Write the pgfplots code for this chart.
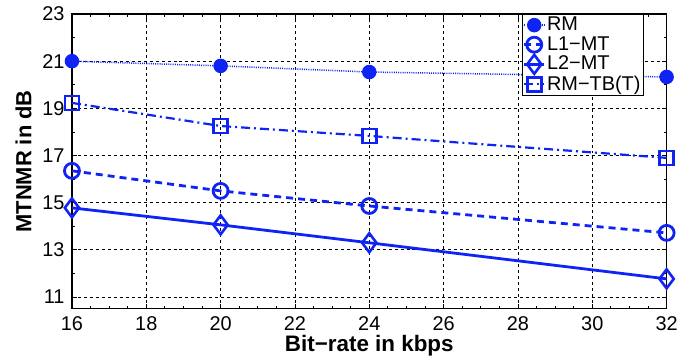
\documentclass[border=0pt]{standalone}
\usepackage{fontspec}
\setmainfont{Liberation Sans}
\usepackage{pgfplots}
\pgfplotsset{compat=1.18}
\definecolor{mblue}{RGB}{15,35,245}
\begin{document}
\fontsize{19}{22}\selectfont
\begin{tikzpicture}
\begin{axis}[
  scale only axis, width=595bp, height=295bp,
  xmin=16, xmax=32, ymin=10.5, ymax=23,
  xtick={16,18,...,32}, ytick={11,13,...,23},
  minor x tick num=3, minor y tick num=1,
  tick align=inside, tick pos=both,
  major tick length=5bp, minor tick length=3bp,
  grid=major, major grid style={black, dashed, line width=0.8pt},
  axis line style={black, line width=1.2pt},
  every tick/.style={black, line width=0.8pt},
  /pgf/number format/assume math mode=true,
  ticklabel style={font=\fontsize{20}{22}\selectfont},
  yticklabel style={xshift=-1bp},
  xticklabel style={yshift=-1bp},
  xlabel={\bfseries Bit−rate in kbps},
  ylabel={\bfseries MTNMR in dB},
  xlabel style={yshift=8bp, font=\fontsize{22.5}{24}\selectfont},
  ylabel style={yshift=-2bp, font=\fontsize{22}{24}\selectfont},
  legend style={at={(rel axis cs:0.961,1)}, anchor=north east, draw=black, line width=0.8pt,
    font=\fontsize{20}{22}\selectfont, inner sep=1pt, fill=white,
    nodes={inner sep=1.5pt}},
  legend cell align=left,
  legend image code/.code={\draw[mark repeat=2,mark phase=2] plot coordinates {(0cm,0cm) (0.35cm,0cm) (0.7cm,0cm)};},
]
\addplot[mblue, line width=1.5pt, dash pattern=on 1pt off 1.2pt, mark=*, mark size=6.5bp, mark options={solid}]
  coordinates {(16,21.0) (20,20.8) (24,20.54) (32,20.33)};
\addlegendentry{RM}
\addplot[mblue, line width=2.8pt, dash pattern=on 7bp off 5bp, mark=o, mark size=7.5bp, mark options={solid, line width=2.8pt}]
  coordinates {(16,16.35) (20,15.5) (24,14.86) (32,13.72)};
\addlegendentry{L1−MT}
\addplot[mblue, line width=2.8pt, mark=diamond, mark size=9.5bp, mark options={solid, line width=2.6pt}]
  coordinates {(16,14.78) (20,14.06) (24,13.3) (32,11.77)};
\addlegendentry{L2−MT}
\addplot[mblue, line width=2.2pt, dash pattern=on 9bp off 4bp on 2bp off 4bp, mark=square, mark size=7bp, mark options={solid, line width=2.6pt}]
  coordinates {(16,19.23) (20,18.25) (24,17.83) (32,16.9)};
\addlegendentry{RM−TB(T)}
\end{axis}
\path (current axis.south west) ++(-72bp,-54bp);
\path (current axis.north west) ++(0,14bp);
\end{tikzpicture}
\end{document}
